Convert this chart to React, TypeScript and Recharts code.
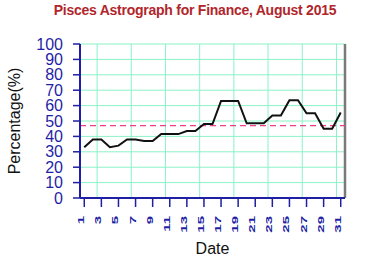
import { LineChart, Line, XAxis, YAxis, CartesianGrid, ReferenceLine } from 'recharts';

const days = [1, 2, 3, 4, 5, 6, 7, 8, 9, 10, 11, 12, 13, 14, 15, 16, 17, 18, 19, 20, 21, 22, 23, 24, 25, 26, 27, 28, 29, 30, 31];
const percentages = [33, 38, 38, 33, 34, 38, 38, 37, 37, 41.5, 41.5, 41.5, 43.5, 43.5, 48, 48, 63, 63, 63, 48.5, 48.5, 48.5, 53.5, 53.5, 63.5, 63.5, 55, 55, 45, 45, 55.5];
const dayTicks = [1, 3, 5, 7, 9, 11, 13, 15, 17, 19, 21, 23, 25, 27, 29, 31];
const gridTicks = [2.5, 4.5, 6.5, 8.5, 10.5, 12.5, 14.5, 16.5, 18.5, 20.5, 22.5, 24.5, 26.5, 28.5, 30.5];
const percentTicks = [0, 10, 20, 30, 40, 50, 60, 70, 80, 90, 100];
const averageLevel = 47;

const data = days.map((day, i) => ({ day, value: percentages[i] }));

const BLUE = '#1f1fa5';
const GRID = '#8af2c8';
const FONT = 'Liberation Sans, Arial, sans-serif';

function DayTick({ x, y, payload }: any) {
  return (
    <text
      transform={`translate(${x}, ${y + 7}) rotate(-90) scale(1, 0.62)`}
      textAnchor="end"
      fontSize={15}
      fontWeight="bold"
      fill={BLUE}
      fontFamily={FONT}
    >
      {payload.value}
    </text>
  );
}

export default function App() {
  return (
    <div style={{ position: 'absolute', left: 0, top: 0, width: 388, height: 257, background: '#fff' }}>
      <div
        style={{
          position: 'absolute',
          left: 0,
          top: 2,
          width: 390,
          textAlign: 'center',
          fontFamily: FONT,
          fontWeight: 'bold',
          fontSize: 14,
          letterSpacing: -0.25,
          color: '#b0262c',
        }}
      >
        Pisces Astrograph for Finance, August 2015
      </div>
      <LineChart
        width={388}
        height={257}
        data={data}
        margin={{ top: 44, right: 43, left: 0, bottom: 0 }}
      >
        <CartesianGrid xAxisId="grid" stroke={GRID} strokeWidth={1} />
        <XAxis
          dataKey="day"
          type="number"
          domain={[0.5, 31.5]}
          ticks={dayTicks}
          interval={0}
          height={59}
          axisLine={{ stroke: BLUE, strokeWidth: 2 }}
          tickLine={{ stroke: BLUE, strokeWidth: 1.5 }}
          tickSize={9}
          tick={<DayTick />}
          label={{
            value: 'Date',
            position: 'insideBottom',
            offset: 3,
            fill: '#111',
            fontSize: 16,
            fontFamily: FONT,
          }}
        />
        <XAxis
          xAxisId="grid"
          dataKey="day"
          type="number"
          domain={[0.5, 31.5]}
          ticks={gridTicks}
          hide
        />
        <YAxis
          domain={[0, 100]}
          ticks={percentTicks}
          interval={0}
          width={80}
          axisLine={{ stroke: BLUE, strokeWidth: 2 }}
          tickLine={{ stroke: BLUE, strokeWidth: 1.5 }}
          tickSize={7}
          tickMargin={10}
          tick={{ fill: BLUE, fontSize: 16, fontFamily: FONT }}
          label={{
            value: 'Percentage(%)',
            angle: -90,
            position: 'insideLeft',
            offset: 14,
            fill: '#111',
            fontSize: 16,
            fontFamily: FONT,
            style: { textAnchor: 'middle' },
          }}
        />
        <ReferenceLine x={31.5} stroke="#7a7a7a" strokeWidth={2.5} />
        <ReferenceLine y={averageLevel} stroke="#ec3f86" strokeDasharray="6 4" strokeWidth={1.2} />
        <Line
          dataKey="value"
          type="linear"
          stroke="#111"
          strokeWidth={2}
          dot={false}
          isAnimationActive={false}
        />
      </LineChart>
    </div>
  );
}
